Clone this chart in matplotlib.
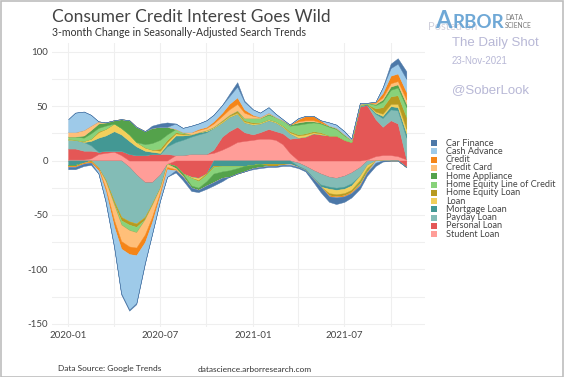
import numpy as np
import pandas as pd
import matplotlib
matplotlib.use("Agg")
import matplotlib.pyplot as plt
from matplotlib.patches import Rectangle

plt.rcParams['font.family'] = ['Lato', 'DejaVu Sans']

# semi-monthly observations, Jan 2020 - Nov 2021
dates = pd.date_range('2020-01-01', '2021-11-01', freq='SMS')

car_finance = [-2, -2, -2, -2, 0, -1, -1, -1, -1, -1, -1, 2, 3, 4, -2, -3, -3, -2, -3, -3, -3, 2, 4, 1,
               -1, -1, -1, -1, -1, -1, -1, -1, -3, -5, -5, -6, -5, -4, -3, -3, -3, -1, 4, 5, 7]
cash_advance = [12, 18, 17, 10, -3, -9, -18, -41, -51, -44, -19, -11, -5, -7, 5, 4, 6, 5, 6, 6, 7, 7, 10, 7,
                5, 4, 5, 3, 1, -1, 1, 0, 0, 0, 3, 3, 3, 1, 1, 0, -2, 5, 7, 9, 12]
credit = [-1, -1, -1, -1, -2, -3, -6, -7, -7, -7, -7, -5, -3, -2, -1, 0, 0, 1, 1, 2, 3, 5, 6, 3,
          1, 0, 0, 0, 0, 0, 2, 4, 4, 2, -1, -1, -1, -1, -1, -1, 1, 4, 7, 7, 7]
credit_card = [4, 4, 5, 4, 2, -6, -14, -15, -15, -14, -14, -11, -4, -3, -1, -1, 2, 2, 2, 3, 4, 5, 6, 5,
               2, 1, 1, 0, 0, 0, 1, 1, 1, 0, 0, 0, 0, 0, -1, 0, 1, 2, 3, 3, 4]
home_appliance = [-1, -1, 2, 3, 4, 3, 3, 8, 13, 14, 12, 14, 12, 7, -2, -2, -2, -2, -4, -8, -6, -6, -5, -5,
                  -3, -3, 1, 0, 0, 1, 2, 2, 1, 1, 1, 1, 1, 0, -1, -1, 1, 2, 3, 3, 3]
heloc = [2, 3, 3, 5, 3, 3, -1, -4, -5, -5, 3, 6, 8, 5, 3, 1, -7, -6, -6, -6, -5, -4, -2, 2,
         4, 4, 4, 4, 5, 5, 9, 9, 8, 8, 8, 6, 4, 2, 1, 1, 3, 5, 6, 7, 9]
home_equity_loan = [0, 0, 0, -1, 1, -1, -2, -3, -3, -3, -2, -1, 2, 2, 1, 1, 0, -1, -1, -1, 1, 1, 2, 1,
                    1, 0, -2, -2, -1, 1, 1, 1, 1, 1, -2, -2, -2, -2, -2, -2, 3, 6, 7, 8, 11]
loan = [1, 0, 1, 2, 5, 6, 7, 6, 6, 4, 3, 2, 2, 2, 2, 1, -1, -2, 1, 1, 1, 1, 1, 1,
        1, 1, 1, 1, 1, 1, 2, 2, 1, 1, -4, -4, -4, -4, -4, -3, 1, 2, 2, 3, 4]
mortgage_loan = [-4, -4, -2, 4, 13, 14, 18, 15, 12, 8, 4, 2, 1, 2, 6, 4, 2, 2, 1, -5, -5, -5, -5, -5,
                 -4, -3, -3, -3, -3, -3, -1, -1, -1, -2, -2, -2, -2, -2, 1, 1, 1, 2, 3, 3, 4]
payday_loan = [8, 8, 8, 5, -7, -18, -38, -52, -50, -45, -32, -20, -12, 7, 12, 14, 16, 18, 20, 20, 13, 13, 12, 9,
               9, 8, 8, 8, 6, 5, -3, -3, -7, -10, -9, -9, -10, -10, -8, -4, 5, 8, 10, 12, 20]
personal_loan = [10, 10, 8, 7, 2, 2, 1, 4, 6, 5, 5, 6, 6, 6, -5, -12, -15, -16, -12, 3, 12, 14, 14, 8,
                 5, 6, 9, 8, 10, 13, 21, 22, 25, 24, 23, 23, 19, 17, 50, 50, 34, 26, 32, 30, -6]
student_loan = [1, 1, 1, 2, 6, 7, 8, 5, -6, -13, -20, -20, -13, -3, 5, 5, 6, 6, 6, 7, 10, 13, 17, 18,
                19, 20, 20, 19, 15, 7, -2, -5, -9, -12, -15, -16, -14, -11, -6, 1, 4, 5, 5, 4, 1]

names = ['Car Finance', 'Cash Advance', 'Credit', 'Credit Card', 'Home Appliance',
         'Home Equity Line of Credit', 'Home Equity Loan', 'Loan', 'Mortgage Loan',
         'Payday Loan', 'Personal Loan', 'Student Loan']
series = [car_finance, cash_advance, credit, credit_card, home_appliance, heloc,
          home_equity_loan, loan, mortgage_loan, payday_loan, personal_loan, student_loan]
colors = ['#4c78a8', '#9ecae9', '#f58518', '#ffbf79', '#54a24b', '#88d27a',
          '#b79a20', '#f2cf5b', '#439894', '#83bcb6', '#e45756', '#ff9d98']

fig = plt.figure(figsize=(5.64, 3.77), dpi=100)
ax = fig.add_axes([52/564, 1-327/377, (425-52)/564, (327-43)/377])

# diverging stack: Student Loan nearest zero, Car Finance outermost
pos_base = np.zeros(len(dates))
neg_base = np.zeros(len(dates))
for vals, c in zip(series[::-1], colors[::-1]):
    v = np.array(vals, dtype=float)
    p = np.clip(v, 0, None)
    q = np.clip(v, None, 0)
    ax.fill_between(dates, pos_base, pos_base + p, facecolor=c, edgecolor=c, lw=0.3)
    ax.fill_between(dates, neg_base + q, neg_base, facecolor=c, edgecolor=c, lw=0.3)
    pos_base += p
    neg_base += q

ax.set_ylim(-153, 108)
ax.set_xlim(pd.Timestamp('2019-11-30'), pd.Timestamp('2021-12-08'))

# grid
for d in pd.date_range('2020-01-01', '2021-10-01', freq='QS'):
    ax.axvline(d, color='#efefef', lw=0.8, zorder=0)
for yv in range(-150, 101, 25):
    ax.axhline(yv, color='#efefef', lw=0.8, zorder=0)

ax.set_yticks([100, 50, 0, -50, -100, -150])
ax.set_yticklabels(['100', '50', '0', '-50', '-100', '-150'])
ax.set_xticks(pd.to_datetime(['2020-01-01', '2020-07-01', '2021-01-01', '2021-07-01']))
ax.set_xticklabels(['2020-01', '2020-07', '2021-01', '2021-07'])
ax.tick_params(length=0, labelsize=7, colors='#444444', pad=3)
for s in ax.spines.values():
    s.set_visible(False)

# titles
fig.text(52/564, 1-17/377, 'Consumer Credit Interest Goes Wild', fontsize=12.5,
         color='#444444', va='center', ha='left')
fig.text(52/564, 1-33/377, '3-month Change in Seasonally-Adjusted Search Trends', fontsize=7.6,
         color='#333333', va='center', ha='left')

# legend
for i, (n, c) in enumerate(zip(names, colors)):
    yc = 143 + i*8.3
    fig.patches.append(Rectangle((431/564, 1-(yc+3)/377), 6/564, 6/377,
                                 transform=fig.transFigure, facecolor=c, edgecolor='none'))
    fig.text(446/564, 1-yc/377, n, fontsize=6.6, color='#444444', va='center', ha='left')

# footer
fig.text(58/564, 1-369/377, 'Data Source: Google Trends', fontsize=6, color='#333333', va='center')
fig.text(198/564, 1-369/377, 'datascience.arborresearch.com', fontsize=6, color='#333333', va='center')

# watermark
fig.text(428/564, 1-26/377, 'Posted on', fontsize=8, color='#d0d0dc', va='center')
fig.text(435/564, 1-21/377, 'A', fontsize=17, color='#5f9fd2', va='center', fontweight='bold', alpha=0.9)
fig.text(452/564, 1-22/377, 'RBOR', fontsize=13.5, color='#5f9fd2', va='center', fontweight='bold', alpha=0.9)
fig.text(505/564, 1-17/377, 'DATA', fontsize=4.8, color='#777777', va='center')
fig.text(505/564, 1-26/377, 'SCIENCE', fontsize=4.8, color='#777777', va='center')
fig.text(452/564, 1-43/377, 'The Daily Shot', fontsize=9.5, color='#b8b8d6', va='center',
         family='Liberation Sans')
fig.text(452/564, 1-61/377, '23-Nov-2021', fontsize=7, color='#b8b8d6', va='center',
         family='Liberation Sans')
fig.text(452/564, 1-90/377, '@SoberLook', fontsize=9.5, color='#b8b8d6', va='center',
         family='Liberation Sans')

# outer frame
fig.patches.append(Rectangle((0.5/564, 0.5/377), 1-1.5/564, 1-1.5/377, transform=fig.transFigure,
                             fill=False, edgecolor='#bdbdbd', lw=1.2))

fig.savefig('out.png', dpi=100)
